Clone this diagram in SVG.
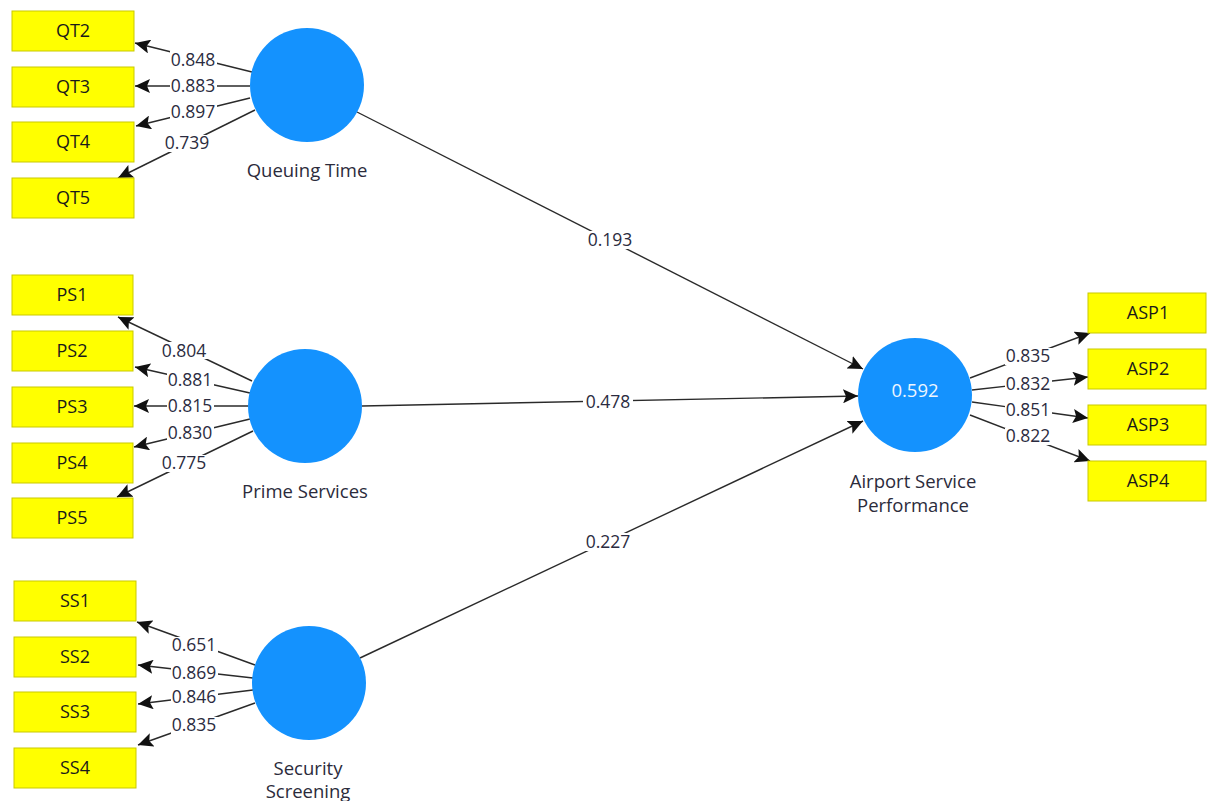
<svg xmlns="http://www.w3.org/2000/svg" width="1207" height="801" viewBox="0 0 1207 801">
<defs>
<marker id="ah" markerUnits="userSpaceOnUse" markerWidth="16" markerHeight="14" viewBox="0 0 16 14" refX="15" refY="7" orient="auto">
<path d="M0,0 L15,7 L0,14 L3,7 Z" fill="#111"/>
</marker>
</defs>
<style>
.box{fill:#ffff00;stroke:#c9c900;stroke-width:1}
.bt{font-family:"Open Sans","Liberation Sans",sans-serif;font-size:18px;fill:#1a1a1a;text-anchor:middle}
.lv{fill:#1492fe}
.lt{font-family:"Open Sans","Liberation Sans",sans-serif;font-size:18.5px;fill:#2b2b3b;text-anchor:middle}
.ln{stroke:#2a2a2a;stroke-width:1.4;fill:none;marker-end:url(#ah)}
.nb{fill:#fff}
.el{font-family:"Open Sans","Liberation Sans",sans-serif;font-size:17.5px;fill:#2b2b40;text-anchor:middle}
</style>
<rect width="1207" height="801" fill="#fff"/>

<g id="connectors">
<line class="ln" x1="252" y1="72" x2="135" y2="43"/>
<line class="ln" x1="250" y1="86" x2="135" y2="86"/>
<line class="ln" x1="250" y1="98" x2="136" y2="126"/>
<line class="ln" x1="255" y1="110" x2="118" y2="178"/>

<line class="ln" x1="252" y1="381" x2="118" y2="317"/>
<line class="ln" x1="250" y1="393" x2="135" y2="367"/>
<line class="ln" x1="248" y1="406" x2="134" y2="406"/>
<line class="ln" x1="250" y1="419" x2="134" y2="447"/>
<line class="ln" x1="253" y1="431" x2="117" y2="497"/>

<line class="ln" x1="255" y1="665" x2="137" y2="622"/>
<line class="ln" x1="253" y1="678" x2="138" y2="665"/>
<line class="ln" x1="253" y1="690" x2="138" y2="704"/>
<line class="ln" x1="255" y1="703" x2="138" y2="745"/>

<line class="ln" x1="970" y1="378" x2="1090" y2="333"/>
<line class="ln" x1="972" y1="390" x2="1088" y2="377"/>
<line class="ln" x1="972" y1="402" x2="1088" y2="418"/>
<line class="ln" x1="970" y1="415" x2="1090" y2="461"/>

<line class="ln" x1="357" y1="112" x2="863" y2="369"/>
<line class="ln" x1="362" y1="406" x2="858" y2="396"/>
<line class="ln" x1="360" y1="658" x2="863" y2="421"/>

<g id="edge-labels">
<rect class="nb" x="170" y="51" width="47" height="17"/><text class="el" x="193" y="66">0.848</text>
<rect class="nb" x="170" y="78" width="47" height="17"/><text class="el" x="193" y="92">0.883</text>
<rect class="nb" x="170" y="104" width="47" height="17"/><text class="el" x="193" y="118">0.897</text>
<rect class="nb" x="164" y="135" width="47" height="17"/><text class="el" x="187" y="149">0.739</text>

<rect class="nb" x="161" y="342" width="47" height="17"/><text class="el" x="184" y="357">0.804</text>
<rect class="nb" x="167" y="372" width="47" height="17"/><text class="el" x="190" y="386">0.881</text>
<rect class="nb" x="167" y="398" width="47" height="17"/><text class="el" x="190" y="412">0.815</text>
<rect class="nb" x="167" y="425" width="47" height="17"/><text class="el" x="190" y="439">0.830</text>
<rect class="nb" x="161" y="455" width="47" height="17"/><text class="el" x="184" y="469">0.775</text>

<rect class="nb" x="171" y="637" width="47" height="17"/><text class="el" x="194" y="651">0.651</text>
<rect class="nb" x="171" y="665" width="47" height="17"/><text class="el" x="194" y="679">0.869</text>
<rect class="nb" x="171" y="689" width="47" height="17"/><text class="el" x="194" y="703">0.846</text>
<rect class="nb" x="171" y="717" width="47" height="17"/><text class="el" x="194" y="731">0.835</text>

<rect class="nb" x="1005" y="348" width="47" height="17"/><text class="el" x="1028" y="362">0.835</text>
<rect class="nb" x="1005" y="376" width="47" height="17"/><text class="el" x="1028" y="390">0.832</text>
<rect class="nb" x="1005" y="402" width="47" height="17"/><text class="el" x="1028" y="416">0.851</text>
<rect class="nb" x="1005" y="428" width="47" height="17"/><text class="el" x="1028" y="442">0.822</text>

<rect class="nb" x="585" y="231" width="50" height="18"/><text class="el" x="610" y="246">0.193</text>
<rect class="nb" x="583" y="393" width="50" height="18"/><text class="el" x="608" y="408">0.478</text>
<rect class="nb" x="583" y="533" width="50" height="18"/><text class="el" x="608" y="548">0.227</text>
</g>
</g>

<g id="QT2"><rect class="box" x="12" y="11" width="122" height="40"/><text class="bt" x="73" y="37">QT2</text></g>
<g id="QT3"><rect class="box" x="12" y="67" width="122" height="40"/><text class="bt" x="73" y="93">QT3</text></g>
<g id="QT4"><rect class="box" x="12" y="122" width="122" height="40"/><text class="bt" x="73" y="148">QT4</text></g>
<g id="QT5"><rect class="box" x="12" y="178" width="122" height="40"/><text class="bt" x="73" y="204">QT5</text></g>

<g id="PS1"><rect class="box" x="12" y="275" width="121" height="40"/><text class="bt" x="72" y="301">PS1</text></g>
<g id="PS2"><rect class="box" x="12" y="331" width="121" height="40"/><text class="bt" x="72" y="357">PS2</text></g>
<g id="PS3"><rect class="box" x="12" y="387" width="121" height="40"/><text class="bt" x="72" y="413">PS3</text></g>
<g id="PS4"><rect class="box" x="12" y="443" width="121" height="40"/><text class="bt" x="72" y="469">PS4</text></g>
<g id="PS5"><rect class="box" x="12" y="498" width="121" height="40"/><text class="bt" x="72" y="524">PS5</text></g>

<g id="SS1"><rect class="box" x="14" y="581" width="122" height="40"/><text class="bt" x="75" y="607">SS1</text></g>
<g id="SS2"><rect class="box" x="14" y="637" width="122" height="40"/><text class="bt" x="75" y="663">SS2</text></g>
<g id="SS3"><rect class="box" x="14" y="692" width="122" height="40"/><text class="bt" x="75" y="718">SS3</text></g>
<g id="SS4"><rect class="box" x="14" y="748" width="122" height="40"/><text class="bt" x="75" y="774">SS4</text></g>

<g id="ASP1"><rect class="box" x="1088" y="293" width="118" height="40"/><text class="bt" x="1148" y="319">ASP1</text></g>
<g id="ASP2"><rect class="box" x="1088" y="349" width="118" height="40"/><text class="bt" x="1148" y="375">ASP2</text></g>
<g id="ASP3"><rect class="box" x="1088" y="405" width="118" height="40"/><text class="bt" x="1148" y="431">ASP3</text></g>
<g id="ASP4"><rect class="box" x="1088" y="461" width="118" height="40"/><text class="bt" x="1148" y="487">ASP4</text></g>

<g id="QueuingTime"><circle class="lv" cx="307" cy="85" r="57"/><text class="lt" x="307" y="177">Queuing Time</text></g>
<g id="PrimeServices"><circle class="lv" cx="305" cy="406" r="57"/><text class="lt" x="305" y="498">Prime Services</text></g>
<g id="SecurityScreening"><circle class="lv" cx="309" cy="683" r="57"/><text class="lt" x="308" y="775">Security</text><text class="lt" x="308" y="798">Screening</text></g>
<g id="AirportServicePerformance"><circle class="lv" cx="915" cy="395" r="57"/><text class="lt" x="915" y="397" style="fill:#eef6ff">0.592</text><text class="lt" x="913" y="488">Airport Service</text><text class="lt" x="913" y="512">Performance</text></g>
</svg>
